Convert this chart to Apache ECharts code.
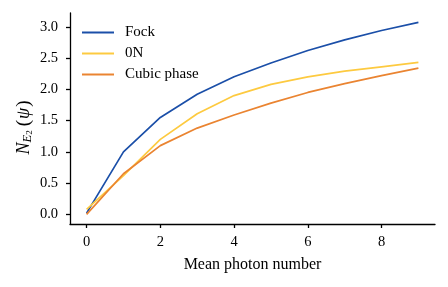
<!DOCTYPE html>
<html><head><meta charset="utf-8">
<script src="https://cdn.jsdelivr.net/npm/echarts@6/dist/echarts.min.js"></script>
<style>html,body{margin:0;padding:0;background:#fff}#c{width:448px;height:287px}</style>
</head><body><div id="c"></div>
<script>
const photons = [0,1,2,3,4,5,6,7,8,9];
const fock = [0.02,1.0,1.55,1.92,2.2,2.42,2.62,2.79,2.94,3.07];
const zeroN = [0.08,0.62,1.2,1.61,1.9,2.08,2.2,2.29,2.36,2.43];
const cubic = [0.0,0.65,1.1,1.38,1.59,1.78,1.95,2.09,2.22,2.34];
const xTicks = [0,2,4,6,8];
const yTicks = [0.0,0.5,1.0,1.5,2.0,2.5,3.0];
const seriesNames = ['Fock','0N','Cubic phase'];
const colors = ['#1b4fa8','#fdca40','#ea8431'];

const font = 'Liberation Serif';
const chart = echarts.init(document.getElementById('c'), null, {renderer:'canvas'});
const mk = (name, vals, color) => ({
  name, type:'line', data: photons.map((x,i)=>[x, vals[i]]),
  showSymbol:false, symbol:'none', lineStyle:{color, width:1.7}, itemStyle:{color},
  animation:false
});
chart.setOption({
  animation:false,
  textStyle:{fontFamily:font},
  grid:{left:70, top:13, right:13, bottom:63, containLabel:false, outerBoundsMode:'none'},
  legend:{
    data: seriesNames, left:82, top:25, padding:0, orient:'vertical', icon:'rect',
    itemWidth:32, itemHeight:2, itemGap:6,
    textStyle:{fontFamily:font, fontSize:15, color:'#000', padding:[0,0,0,6]}
  },
  graphic:[{
    type:'text', x:24, y:127, rotation:Math.PI/2,
    style:{
      text:'{i|N}{s|E}{ss|2}{n|(}{i|ψ}{n|)}',
      align:'center', verticalAlign:'middle', fill:'#000',
      font:'18px ' + font,
      rich:{
        i:{fontStyle:'italic', fontSize:18, fontFamily:font, fill:'#000', lineHeight:20},
        n:{fontSize:19, fontFamily:font, fill:'#000', lineHeight:20, padding:[0,1,0,1]},
        s:{fontStyle:'italic', fontSize:12.5, fontFamily:font, fill:'#000', verticalAlign:'bottom', lineHeight:12, padding:[0,0,0,0]},
        ss:{fontSize:9, fontFamily:font, fill:'#000', verticalAlign:'bottom', lineHeight:8, padding:[0,3,0,0]}
      }
    }
  }],
  xAxis:{
    type:'value', min:-0.45, max:9.45,
    name:'Mean photon number', nameLocation:'middle', nameGap:33,
    nameTextStyle:{fontFamily:font, fontSize:16, color:'#000'},
    axisLine:{onZero:false, lineStyle:{color:'#000', width:1.3}},
    axisTick:{show:true, length:4, inside:false, lineStyle:{color:'#000', width:1.3}, customValues:xTicks},
    axisLabel:{color:'#000', fontSize:14.5, fontFamily:font, margin:11, customValues:xTicks, formatter:v=>String(v)},
    splitLine:{show:false}
  },
  yAxis:{
    type:'value', min:-0.153, max:3.22,
    axisLine:{show:true, onZero:false, lineStyle:{color:'#000', width:1.3}},
    axisTick:{show:true, length:4, lineStyle:{color:'#000', width:1.3}, customValues:yTicks},
    axisLabel:{color:'#000', fontSize:14.5, fontFamily:font, margin:12, customValues:yTicks, formatter:v=>v.toFixed(1)},
    splitLine:{show:false}
  },
  series:[mk(seriesNames[0], fock, colors[0]), mk(seriesNames[1], zeroN, colors[1]), mk(seriesNames[2], cubic, colors[2])]
});
</script></body></html>
